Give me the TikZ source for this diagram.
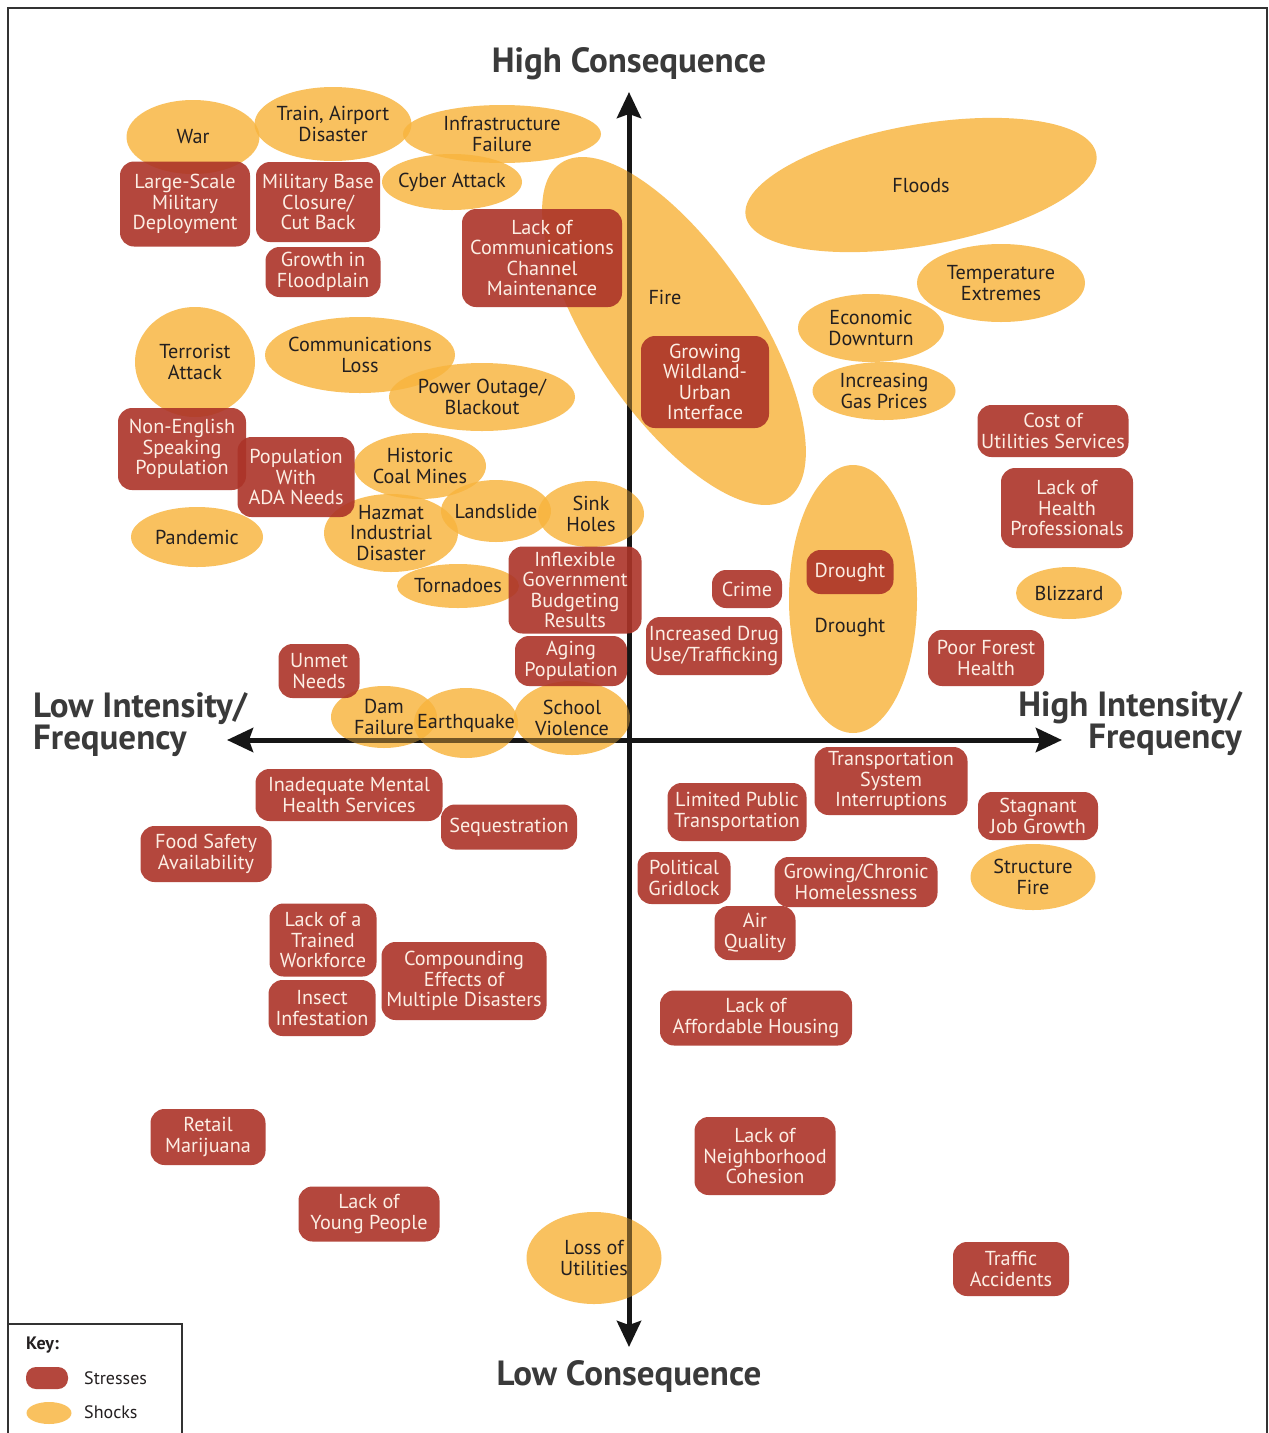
\documentclass[tikz,border=0pt]{standalone}
\usepackage{fontspec}
\setmainfont{PT Sans}
\usetikzlibrary{shapes.geometric,arrows.meta}
\definecolor{stressred}{RGB}{172,52,40}
\definecolor{shockyel}{RGB}{248,180,61}
\definecolor{stresstxt}{RGB}{252,238,228}
\definecolor{shocktxt}{RGB}{35,31,32}
\definecolor{titlegray}{RGB}{58,58,58}
\definecolor{axisblack}{RGB}{22,22,22}
\definecolor{framegray}{RGB}{50,50,50}
\pgfdeclarelayer{axes}
\pgfdeclarelayer{shocks}
\pgfdeclarelayer{axisover}
\pgfdeclarelayer{stresses}
\pgfsetlayers{axes,shocks,axisover,stresses,main}
\newcommand\itemfont{\fontsize{20.2}{20.5}\selectfont}
\newcommand\titlefont{\fontsize{35}{32}\selectfont\bfseries}
\newcommand\keyfont{\fontsize{18}{19}\selectfont}
\tikzset{
  stressbox/.style={rectangle, rounded corners=14pt, fill=stressred, fill opacity=0.9, inner sep=0pt, outer sep=0pt},
  shockshape/.style={ellipse, fill=shockyel, fill opacity=0.82, inner sep=0pt, outer sep=0pt},
  stresslabel/.style={text=stresstxt, align=center, font=\itemfont, inner sep=0pt},
  shocklabel/.style={text=shocktxt, align=center, font=\itemfont, inner sep=0pt},
  axisline/.style={draw=axisblack, line width=5pt},
  axisarrows/.style={axisline, {Stealth[length=26pt,width=24pt,inset=4pt]}-{Stealth[length=26pt,width=24pt,inset=4pt]}},
  titletext/.style={text=titlegray, font=\titlefont, inner sep=0pt},
  frameline/.style={draw=framegray, line width=2.2pt},
}
% name, x, y, width, height, text
\newcommand\stressitem[6]{%
  \begin{pgfonlayer}{stresses}\node[stressbox, minimum width=#4pt, minimum height=#5pt] (#1) at (#2,#3) {};\end{pgfonlayer}%
  \node[stresslabel] (#1-t) at (#1) {#6};}
\newcommand\shockitem[6]{%
  \begin{pgfonlayer}{shocks}\node[shockshape, minimum width=#4pt, minimum height=#5pt] (#1) at (#2,#3) {};\end{pgfonlayer}%
  \node[shocklabel] (#1-t) at (#1) {#6};}
\begin{document}
\begin{tikzpicture}[x=1pt,y=-1pt]
\begin{pgfonlayer}{axes}
  \fill[white] (0,0) rectangle (1269,1433);
\end{pgfonlayer}
\useasboundingbox (0,0) rectangle (1269,1433);

% frame and key box
\draw[frameline] (8,1433) -- (8,8) -- (1267,8) -- (1267,1433);
\draw[frameline] (8,1324) -- (182,1324) -- (182,1433);

% axes
\coordinate (vtop) at (629,92);
\coordinate (vbot) at (629,1347);
\coordinate (hleft) at (227,740);
\coordinate (hright) at (1062,740);
\begin{pgfonlayer}{axes}
  \draw[axisarrows] (vbot) -- (vtop);
  \draw[axisarrows] (hleft) -- (hright);
\end{pgfonlayer}
\begin{pgfonlayer}{axisover}
  \draw[axisline, draw opacity=0.5, shorten <=30pt, shorten >=30pt] (vbot) -- (vtop);
  \draw[axisline, draw opacity=0.5, shorten <=30pt, shorten >=30pt] (hleft) -- (hright);
\end{pgfonlayer}

% titles
\node[titletext] (hc) at (629,64) {High Consequence};
\node[titletext] (lc) at (629,1376) {Low Consequence};
\node[titletext, anchor=west, align=left] (lif) at (33,725) {Low Intensity/\\Frequency};
\node[titletext, anchor=east, align=right] (hif) at (1242,724) {High Intensity/\\Frequency};

% shocks
\shockitem{war}{193}{137}{133}{74}{War}
\shockitem{train}{333}{124}{157}{74}{Train, Airport\\Disaster}
\shockitem{infra}{502}{134}{198}{58}{Infrastructure\\Failure}
\shockitem{cyber}{452}{182}{140}{56}{Cyber Attack}
\shockitem{temp}{1001}{283}{168}{78}{Temperature\\Extremes}
\shockitem{econ}{871}{328}{146}{68}{Economic\\Downturn}
\shockitem{gas}{884}{391}{143}{58}{Increasing\\Gas Prices}
\shockitem{terror}{195}{362}{120}{110}{Terrorist\\Attack}
\shockitem{commloss}{360}{355}{190}{76}{Communications\\Loss}
\shockitem{power}{482}{397}{186}{68}{Power Outage/\\Blackout}
\shockitem{coal}{420}{466}{132}{66}{Historic\\Coal Mines}
\shockitem{landslide}{496}{511}{110}{62}{Landslide}
\shockitem{sink}{591}{514}{106}{66}{Sink\\Holes}
\shockitem{hazmat}{391}{533}{134}{78}{Hazmat\\Industrial\\Disaster}
\shockitem{pandemic}{197}{537}{132}{60}{Pandemic}
\shockitem{tornado}{458}{586}{122}{44}{Tornadoes}
\shockitem{blizzard}{1069}{593}{106}{52}{Blizzard}
\shockitem{dam}{384}{717}{106}{62}{Dam\\Failure}
\shockitem{quake}{466}{723}{104}{70}{Earthquake}
\shockitem{school}{572}{718}{116}{74}{School\\Violence}
\shockitem{structure}{1033}{877}{125}{66}{Structure\\Fire}
\shockitem{lossutil}{594}{1258}{135}{92}{Loss of\\Utilities}
\begin{pgfonlayer}{shocks}
  \node[shockshape, minimum width=163pt, minimum height=405pt, rotate=34] (fire) at (674,331) {};
  \node[shockshape, minimum width=356pt, minimum height=121pt, rotate=10] (floods) at (921,185) {};
  \node[shockshape, minimum width=128pt, minimum height=268pt] (droughtY) at (853,599) {};
\end{pgfonlayer}
\node[shocklabel] (fire-t) at (665,297) {Fire};
\node[shocklabel] (floods-t) at (921,186) {Floods};
\node[shocklabel] (droughtY-t) at (850,627) {Drought};

% stresses
\stressitem{lsmd}{185}{204}{130}{85}{Large-Scale\\Military\\Deployment}
\stressitem{mbc}{318}{202}{124}{80}{Military Base\\Closure/\\Cut Back}
\stressitem{gif}{323}{272}{115}{50}{Growth in\\Floodplain}
\stressitem{lccm}{542}{258}{160}{98}{Lack of\\Communications\\Channel\\Maintenance}
\stressitem{gwui}{705}{382}{128}{92}{Growing\\Wildland-\\Urban\\Interface}
\stressitem{cus}{1053}{431}{151}{52}{Cost of\\Utilities Services}
\stressitem{lhp}{1067}{508}{132}{80}{Lack of\\Health\\Professionals}
\stressitem{nesp}{182}{449}{128}{82}{Non-English\\Speaking\\Population}
\stressitem{pwan}{296}{477}{117}{80}{Population\\With\\ADA Needs}
\stressitem{igbr}{575}{590}{133}{87}{Inflexible\\Government\\Budgeting\\Results}
\stressitem{agp}{571}{661}{112}{50}{Aging\\Population}
\stressitem{crime}{747}{589}{70}{38}{Crime}
\stressitem{idut}{714}{646}{136}{58}{Increased Drug\\Use/Trafficking}
\stressitem{droughtR}{850}{572}{87}{44}{Drought}
\stressitem{pfh}{986}{658}{116}{56}{Poor Forest\\Health}
\stressitem{unmet}{319}{671}{81}{54}{Unmet\\Needs}
\stressitem{imhs}{349}{795}{187}{52}{Inadequate Mental\\Health Services}
\stressitem{seq}{509}{827}{136}{45}{Sequestration}
\stressitem{fsa}{206}{854}{131}{56}{Food Safety\\Availability}
\stressitem{ltw}{323}{940}{107}{73}{Lack of a\\Trained\\Workforce}
\stressitem{insect}{322}{1008}{107}{56}{Insect\\Infestation}
\stressitem{cemd}{464}{981}{165}{78}{Compounding\\Effects of\\Multiple Disasters}
\stressitem{retail}{208}{1137}{115}{56}{Retail\\Marijuana}
\stressitem{lyp}{369}{1214}{141}{55}{Lack of\\Young People}
\stressitem{lnc}{765}{1156}{141}{78}{Lack of\\Neighborhood\\Cohesion}
\stressitem{traffic}{1011}{1269}{116}{54}{Traffic\\Accidents}
\stressitem{tsi}{891}{781}{153}{68}{Transportation\\System\\Interruptions}
\stressitem{lpt}{737}{812}{139}{58}{Limited Public\\Transportation}
\stressitem{sjg}{1038}{816}{120}{48}{Stagnant\\Job Growth}
\stressitem{pg}{684}{878}{93}{52}{Political\\Gridlock}
\stressitem{gch}{856}{882}{163}{50}{Growing/Chronic\\Homelessness}
\stressitem{aq}{755}{933}{81}{54}{Air\\Quality}
\stressitem{lah}{756}{1018}{192}{55}{Lack of\\Affordable Housing}

% key
\node[text=shocktxt, font=\keyfont\bfseries, anchor=west, inner sep=0pt] (keyt) at (26,1345) {Key:};
\begin{pgfonlayer}{stresses}
  \node[stressbox, rounded corners=10pt, minimum width=42pt, minimum height=22pt] (keys) at (47,1378) {};
\end{pgfonlayer}
\begin{pgfonlayer}{shocks}
  \node[shockshape, minimum width=45pt, minimum height=22pt] (keyk) at (49,1413) {};
\end{pgfonlayer}
\node[text=shocktxt, font=\keyfont, anchor=west, inner sep=0pt] (keys-t) at (84,1378) {Stresses};
\node[text=shocktxt, font=\keyfont, anchor=west, inner sep=0pt] (keyk-t) at (84,1412) {Shocks};
\end{tikzpicture}
\end{document}
